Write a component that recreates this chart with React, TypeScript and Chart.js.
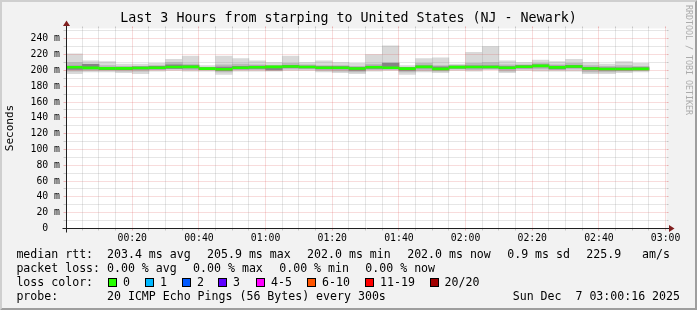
import React, { useEffect, useRef } from 'react';
import { Chart, registerables } from 'chart.js';

Chart.register(...registerables);

// ---------- data ----------
const TITLE = 'Last 3 Hours from starping to United States (NJ - Newark)';
const Y_LABEL = 'Seconds';
const WATERMARK = 'RRDTOOL / TOBI OETIKER';

const X_MIN = 0.267; // 00:00:16 in minutes
const X_MAX = 180.267; // 03:00:16
const Y_MAX = 253;
const Y_TICKS = [0, 20, 40, 60, 80, 100, 120, 140, 160, 180, 200, 220, 240];
const X_TICKS = [20, 40, 60, 80, 100, 120, 140, 160, 180];

// centre of each 5-minute bin (minutes after 00:00)
const binMid = [
  2.5, 7.5, 12.5, 17.5, 22.5, 27.5, 32.5, 37.5, 42.5, 47.5,
  52.5, 57.5, 62.5, 67.5, 72.5, 77.5, 82.5, 87.5, 92.5, 97.5,
  102.5, 107.5, 112.5, 117.5, 122.5, 127.5, 132.5, 137.5, 142.5, 147.5,
  152.5, 157.5, 162.5, 167.5, 172.5,
];

// median rtt (ms)
const median = [
  204.0, 203.2, 202.6, 202.6, 203.0, 203.3, 204.3, 204.5, 202.3, 201.5,
  203.4, 204.0, 204.5, 205.0, 204.3, 203.3, 203.3, 202.4, 204.0, 203.3,
  202.3, 204.4, 202.0, 204.2, 204.3, 204.3, 203.3, 204.6, 205.8, 203.8,
  205.0, 202.4, 201.8, 201.8, 202.0,
];

// outer smoke (min / max ping)
const smokeHi = [
  221, 212, 211, 208, 208, 209, 214, 218, 206, 218,
  215, 212, 210, 218, 210, 212, 210, 209, 220, 231,
  206, 215, 216, 208, 223, 230, 212, 210, 213, 211,
  214, 210, 208, 211, 209,
];
const smokeLo = [
  196, 198, 198, 197, 196, 199, 200, 199, 199, 195,
  199, 199, 199, 200, 200, 198, 197, 196, 199, 200,
  195, 198, 197, 200, 199, 201, 197, 200, 199, 199,
  199, 196, 196, 197, 198,
];

// middle smoke
const midHi = [
  210, 208, 206, 205, 205, 206, 210, 208, 204, 207,
  208, 207, 206, 209, 207, 206, 206, 205, 208, 210,
  204, 209, 206, 206, 209, 210, 207, 207, 209, 207,
  209, 206, 205, 206, 205,
];
const midLo = [
  199, 200, 200, 199, 199, 201, 202, 201, 200.5, 198,
  201, 201, 200, 202, 202, 200, 199, 198, 201, 202,
  198, 200, 199, 202, 201, 202, 199, 202, 202, 201,
  202, 198, 198, 199, 200,
];

// dark core smoke
const coreHi = [
  205.5, 207.7, 204.0, 204.0, 204.5, 205.0, 207.0, 206.0, 203.5, 204.3,
  205.0, 205.5, 205.5, 206.5, 205.5, 204.8, 204.8, 203.8, 205.5, 209.0,
  203.5, 205.8, 204.5, 205.5, 205.8, 205.8, 204.8, 206.0, 207.2, 205.5,
  206.5, 203.8, 203.2, 203.2, 203.5,
];
const coreLo = [
  201.3, 202.0, 201.0, 200.8, 201.5, 202.0, 202.5, 203.0, 201.0, 200.0,
  202.0, 202.5, 200.5, 203.5, 203.0, 202.0, 201.8, 200.0, 202.5, 202.0,
  200.0, 203.0, 200.5, 202.8, 203.0, 203.0, 202.0, 203.2, 204.3, 202.0,
  203.5, 201.0, 200.3, 200.3, 200.5,
];

const MEDIAN_HALF = 1.25; // half thickness of the median band (ms)

const rttItems = ['median rtt:  203.4 ms avg', '205.9 ms max', '202.0 ms min', '202.0 ms now', '0.9 ms sd', '225.9   am/s'];
const lossItems = ['packet loss: 0.00 % avg', '0.00 % max', '0.00 % min', '0.00 % now'];
const lossLabels = ['0', '1', '2', '3', '4-5', '6-10', '11-19', '20/20'];
const lossColors = ['#26ff00', '#00b8ff', '#0059ff', '#5e00ff', '#ff00ff', '#ff5500', '#ff0000', '#a10000'];
const probeText = '20 ICMP Echo Pings (56 Bytes) every 300s';
const stampText = 'Sun Dec  7 03:00:16 2025';

// ---------- layout ----------
const W = 697;
const H = 310;
const MONO = '"DejaVu Sans Mono", monospace';

const rrdPlugin = {
  id: 'rrd',
  beforeDraw(chart: any) {
    const ctx = chart.ctx as CanvasRenderingContext2D;
    const { left, right, top, bottom } = chart.chartArea;
    ctx.save();
    ctx.fillStyle = '#f2f2f2';
    ctx.fillRect(0, 0, W, H);
    // 3D shade
    ctx.fillStyle = '#cfcfcf';
    ctx.beginPath();
    ctx.moveTo(0, 0); ctx.lineTo(W, 0); ctx.lineTo(W - 2, 2); ctx.lineTo(2, 2);
    ctx.lineTo(2, H - 2); ctx.lineTo(0, H); ctx.closePath(); ctx.fill();
    ctx.fillStyle = '#9e9e9e';
    ctx.beginPath();
    ctx.moveTo(W, 0); ctx.lineTo(W, H); ctx.lineTo(0, H); ctx.lineTo(2, H - 2);
    ctx.lineTo(W - 2, H - 2); ctx.lineTo(W - 2, 2); ctx.closePath(); ctx.fill();
    // canvas
    ctx.fillStyle = '#ffffff';
    ctx.fillRect(left, top, right - left, bottom - top);
    ctx.restore();
  },
  afterDatasetsDraw(chart: any) {
    const ctx = chart.ctx as CanvasRenderingContext2D;
    const xs = chart.scales.x;
    const ys = chart.scales.y;
    const { left, right, top, bottom } = chart.chartArea;
    const crisp = (p: number) => Math.floor(p) + 0.5;
    const minorCol = 'rgba(143,143,143,0.45)';
    const majorCol = 'rgba(222,79,79,0.4)';
    ctx.save();
    ctx.lineWidth = 1;
    // horizontal grid
    for (let v = 10; v <= Y_MAX; v += 10) {
      const py = crisp(ys.getPixelForValue(v));
      const major = v % 20 === 0;
      ctx.strokeStyle = major ? majorCol : minorCol;
      ctx.setLineDash([]);
      ctx.beginPath();
      ctx.moveTo(left - 3, py); ctx.lineTo(left, py);
      ctx.moveTo(right, py); ctx.lineTo(right + 2, py);
      ctx.stroke();
      ctx.setLineDash([1, 1]);
      ctx.beginPath();
      ctx.moveTo(left, py); ctx.lineTo(right, py);
      ctx.stroke();
    }
    // vertical grid
    for (let m = 5; m <= 180; m += 5) {
      const px = crisp(xs.getPixelForValue(m));
      const major = m % 20 === 0;
      ctx.strokeStyle = major ? majorCol : minorCol;
      ctx.setLineDash([]);
      ctx.beginPath();
      ctx.moveTo(px, bottom); ctx.lineTo(px, bottom + 2);
      ctx.moveTo(px, top); ctx.lineTo(px, top - 2);
      ctx.stroke();
      ctx.setLineDash([1, 1]);
      ctx.beginPath();
      ctx.moveTo(px, bottom); ctx.lineTo(px, top);
      ctx.stroke();
    }
    ctx.setLineDash([]);
    // axes
    const ax = crisp(left);
    const ay = crisp(bottom);
    ctx.strokeStyle = '#1f1f1f';
    ctx.beginPath();
    ctx.moveTo(left - 4, ay); ctx.lineTo(right + 4, ay);
    ctx.moveTo(ax, bottom + 4); ctx.lineTo(ax, top - 3);
    ctx.stroke();
    // arrows
    ctx.fillStyle = '#801f1f';
    ctx.beginPath();
    ctx.moveTo(right + 2.5, ay - 3.5); ctx.lineTo(right + 8, ay); ctx.lineTo(right + 2.5, ay + 3.5);
    ctx.closePath(); ctx.fill();
    ctx.beginPath();
    ctx.moveTo(ax - 3.5, top - 2.5); ctx.lineTo(ax, top - 8); ctx.lineTo(ax + 3.5, top - 2.5);
    ctx.closePath(); ctx.fill();
    ctx.restore();
  },
  afterDraw(chart: any) {
    const ctx = chart.ctx as CanvasRenderingContext2D;
    ctx.save();
    ctx.fillStyle = '#000';
    ctx.textBaseline = 'middle';
    // title
    ctx.font = `13.3px ${MONO}`;
    ctx.textAlign = 'center';
    ctx.fillText(TITLE, W / 2, 19);
    // y label
    ctx.save();
    ctx.translate(10.5, 128);
    ctx.rotate(-Math.PI / 2);
    ctx.font = `11px ${MONO}`;
    ctx.fillText(Y_LABEL, 0, 0);
    ctx.restore();
    // watermark
    ctx.save();
    ctx.translate(688.5, 60);
    ctx.rotate(Math.PI / 2);
    ctx.font = `8.3px ${MONO}`;
    ctx.fillStyle = '#ababab';
    ctx.fillText(WATERMARK, 0, 0);
    ctx.restore();

    // legend
    ctx.font = `11.58px ${MONO}`;
    ctx.textAlign = 'left';
    const L = 16.4;
    const GAP = 16.4;
    const r1 = 254.5, r2 = 268.5, r3 = 282.5, r4 = 296.5;
    const row = (items: string[], y: number) => {
      let x = L;
      items.forEach((t) => {
        ctx.fillText(t, x, y);
        x += ctx.measureText(t).width + GAP;
      });
    };
    row(rttItems, r1);
    row(lossItems, r2);
    ctx.fillText('loss color:', L, r3);
    const lblX = [123, 160, 197, 233, 271, 322, 380, 444.5];
    lossLabels.forEach((t, i) => {
      const bx = Math.round(lblX[i] - 15);
      ctx.fillStyle = lossColors[i];
      ctx.fillRect(bx, 278, 9, 9);
      ctx.strokeStyle = '#000';
      ctx.lineWidth = 1;
      ctx.strokeRect(bx + 0.5, 278.5, 8, 8);
      ctx.fillStyle = '#000';
      ctx.fillText(t, lblX[i], r3);
    });
    ctx.fillText('probe:', L, r4);
    ctx.fillText(probeText, 107, r4);
    ctx.textAlign = 'right';
    ctx.fillText(stampText, 680, r4);
    ctx.restore();
  },
};

const pad2 = (n: number) => String(n).padStart(2, '0');

export default function App() {
  const ref = useRef<HTMLCanvasElement>(null);
  useEffect(() => {
    document.body.style.margin = '0';
    const mk = (lo: number[], hi: number[]) => binMid.map((m, i) => ({ x: m, y: [lo[i], hi[i]] }));
    const common = { grouped: false, barPercentage: 1, categoryPercentage: 1, borderWidth: 0, borderSkipped: false };
    const chart = new Chart(ref.current as HTMLCanvasElement, {
      type: 'bar',
      data: {
        datasets: [
          {
            label: 'median',
            data: binMid.map((m, i) => ({ x: m, y: [median[i] - MEDIAN_HALF, median[i] + MEDIAN_HALF] })),
            backgroundColor: lossColors[0],
            order: 1,
            ...common,
          },
          { label: 'core', data: mk(coreLo, coreHi), backgroundColor: '#858585', order: 2, ...common },
          { label: 'mid', data: mk(midLo, midHi), backgroundColor: '#b9b9b9', order: 3, ...common },
          { label: 'outer', data: mk(smokeLo, smokeHi), backgroundColor: '#d9d9d9', order: 4, ...common },
        ] as any,
      },
      options: {
        responsive: false,
        devicePixelRatio: 1,
        animation: false,
        events: [],
        layout: { padding: { left: 0, top: 28.5, right: 30.5, bottom: 0 } },
        plugins: { legend: { display: false }, tooltip: { enabled: false }, title: { display: false } },
        scales: {
          x: {
            type: 'linear',
            min: X_MIN,
            max: X_MAX,
            offset: false,
            grid: { display: false, drawTicks: false, offset: false },
            border: { display: false },
            afterBuildTicks: (s: any) => {
              s.ticks = X_TICKS.map((v) => ({ value: v }));
            },
            afterFit: (s: any) => {
              s.height = 81.5;
            },
            ticks: {
              autoSkip: false,
              maxRotation: 0,
              padding: 4,
              color: '#000',
              font: { family: MONO, size: 9.8 },
              callback: (v: any) => `${pad2(Math.floor(v / 60))}:${pad2(v % 60)}`,
            },
          },
          y: {
            type: 'linear',
            min: 0,
            max: Y_MAX,
            grid: { display: false, drawTicks: false },
            border: { display: false },
            afterBuildTicks: (s: any) => {
              s.ticks = Y_TICKS.map((v) => ({ value: v }));
            },
            afterFit: (s: any) => {
              s.width = 66.5;
            },
            ticks: {
              padding: 6.5,
              color: '#000',
              font: { family: MONO, size: 9.8 },
              callback: (v: any) => (v === 0 ? '0  ' : `${v} m`),
            },
          },
        },
      },
      plugins: [rrdPlugin],
    } as any);
    return () => chart.destroy();
  }, []);
  return <canvas ref={ref} width={W} height={H} style={{ display: 'block', width: W, height: H }} />;
}
